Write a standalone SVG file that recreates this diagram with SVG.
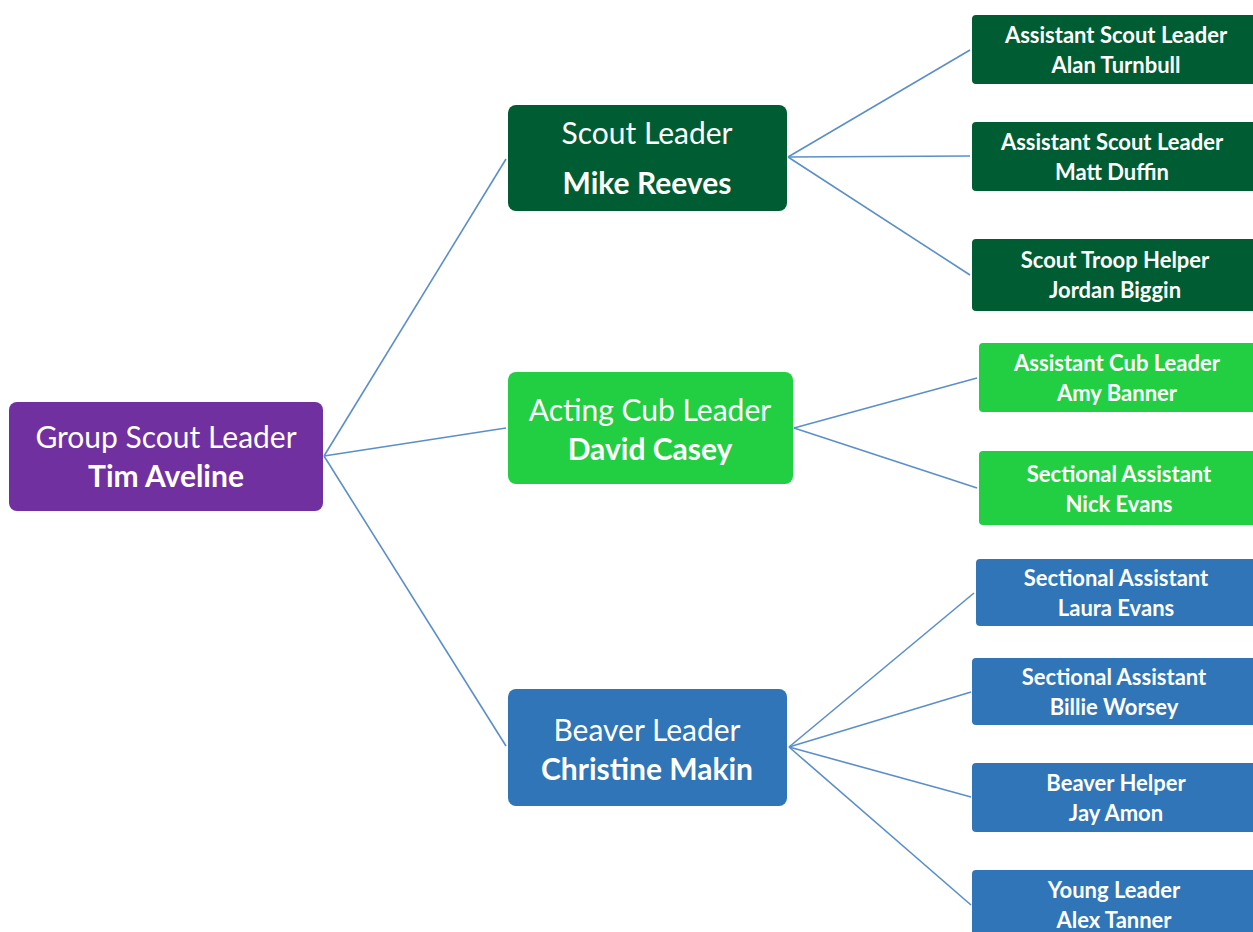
<svg xmlns="http://www.w3.org/2000/svg" width="1253" height="932" viewBox="0 0 1253 932">
<style>
.t{font-family:Lato,"Open Sans","Liberation Sans",sans-serif;fill:#fff;text-anchor:middle}
.r{font-weight:400}
.b{font-weight:700}
.big{font-size:30px}
.sm{font-size:22px;font-weight:700}
.c line{stroke:#5B8FC9;stroke-width:1.6}
.dg{fill:#005C32}
.lg{fill:#22CF43}
.bl{fill:#2F75B7}
</style>
<rect width="1253" height="932" fill="#fff"/>
<g class="c" id="connectors">
<line x1="324" y1="456" x2="506" y2="159"/>
<line x1="324" y1="456" x2="506" y2="428"/>
<line x1="324" y1="456" x2="506" y2="746"/>
<line x1="788" y1="157" x2="970" y2="50"/>
<line x1="788" y1="157" x2="970" y2="156"/>
<line x1="788" y1="157" x2="970" y2="275"/>
<line x1="794" y1="428" x2="977" y2="378"/>
<line x1="794" y1="428" x2="977" y2="488"/>
<line x1="789" y1="747" x2="974" y2="593"/>
<line x1="789" y1="747" x2="971" y2="692"/>
<line x1="789" y1="747" x2="971" y2="797"/>
<line x1="789" y1="747" x2="971" y2="905"/>
</g>
<g id="root">
<rect x="9" y="402" width="314" height="109" rx="8" fill="#7030A0"/>
<text class="t r big" x="166" y="448">Group Scout Leader</text>
<text class="t b big" x="166" y="487">Tim Aveline</text>
</g>
<g id="scout-leader">
<rect class="dg" x="508" y="105" width="279" height="106" rx="8"/>
<text class="t r big" x="647" y="144">Scout Leader</text>
<text class="t b big" x="647" y="194">Mike Reeves</text>
</g>
<g id="cub-leader">
<rect class="lg" x="508" y="372" width="285" height="112" rx="8"/>
<text class="t r big" x="650" y="421">Acting Cub Leader</text>
<text class="t b big" x="650" y="460">David Casey</text>
</g>
<g id="beaver-leader">
<rect class="bl" x="508" y="689" width="279" height="117" rx="8"/>
<text class="t r big" x="647" y="741">Beaver Leader</text>
<text class="t b big" x="647" y="780">Christine Makin</text>
</g>
<g id="asl-alan">
<rect class="dg" x="972" y="15" width="290" height="69" rx="4"/>
<text class="t sm" x="1116" y="43">Assistant Scout Leader</text>
<text class="t sm" x="1116" y="73">Alan Turnbull</text>
</g>
<g id="asl-matt">
<rect class="dg" x="972" y="122" width="290" height="69" rx="4"/>
<text class="t sm" x="1112" y="150">Assistant Scout Leader</text>
<text class="t sm" x="1112" y="180">Matt Duffin</text>
</g>
<g id="sth-jordan">
<rect class="dg" x="972" y="239" width="290" height="72" rx="4"/>
<text class="t sm" x="1115" y="268">Scout Troop Helper</text>
<text class="t sm" x="1115" y="298">Jordan Biggin</text>
</g>
<g id="acl-amy">
<rect class="lg" x="979" y="343" width="290" height="69" rx="4"/>
<text class="t sm" x="1117" y="371">Assistant Cub Leader</text>
<text class="t sm" x="1117" y="401">Amy Banner</text>
</g>
<g id="sa-nick">
<rect class="lg" x="979" y="451" width="290" height="74" rx="4"/>
<text class="t sm" x="1119" y="482">Sectional Assistant</text>
<text class="t sm" x="1119" y="512">Nick Evans</text>
</g>
<g id="sa-laura">
<rect class="bl" x="976" y="559" width="290" height="67" rx="4"/>
<text class="t sm" x="1116" y="586">Sectional Assistant</text>
<text class="t sm" x="1116" y="616">Laura Evans</text>
</g>
<g id="sa-billie">
<rect class="bl" x="972" y="658" width="290" height="67" rx="4"/>
<text class="t sm" x="1114" y="685">Sectional Assistant</text>
<text class="t sm" x="1114" y="715">Billie Worsey</text>
</g>
<g id="bh-jay">
<rect class="bl" x="972" y="763" width="290" height="69" rx="4"/>
<text class="t sm" x="1116" y="791">Beaver Helper</text>
<text class="t sm" x="1116" y="821">Jay Amon</text>
</g>
<g id="yl-alex">
<rect class="bl" x="972" y="870" width="290" height="80" rx="4"/>
<text class="t sm" x="1114" y="898">Young Leader</text>
<text class="t sm" x="1114" y="928">Alex Tanner</text>
</g>
</svg>
